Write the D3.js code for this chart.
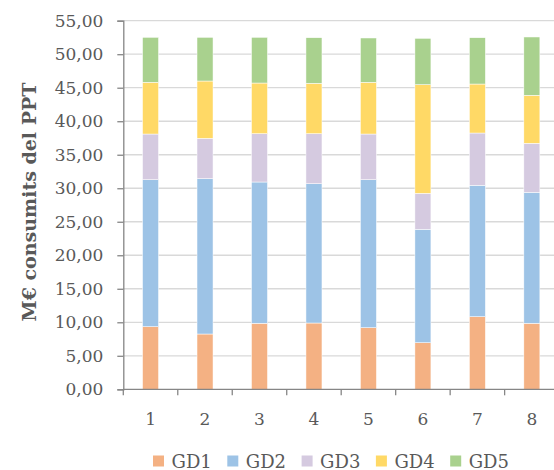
<!DOCTYPE html>
<html>
<head>
<meta charset="utf-8">
<script src="https://cdn.jsdelivr.net/npm/d3@7"></script>
<style>
  body { margin: 0; background: #fff; }
  svg { display: block; font-family: "DejaVu Serif", serif; }
</style>
</head>
<body>
<div id="chart"></div>
<script>
// Categories and series (M€ per group)
const categories = ["1", "2", "3", "4", "5", "6", "7", "8"];
const seriesNames = ["GD1", "GD2", "GD3", "GD4", "GD5"];
const gd1 = [9.34, 8.25, 9.85, 9.89, 9.19, 6.95, 10.83, 9.85];
const gd2 = [21.93, 23.18, 21.08, 20.79, 22.08, 16.92, 19.61, 19.54];
const gd3 = [6.82, 6.02, 7.21, 7.46, 6.82, 5.37, 7.80, 7.32];
const gd4 = [7.72, 8.55, 7.56, 7.52, 7.72, 16.21, 7.31, 7.16];
const gd5 = [6.71, 6.52, 6.82, 6.80, 6.61, 6.92, 6.91, 8.70];
const yTicks = [0, 5, 10, 15, 20, 25, 30, 35, 40, 45, 50, 55];
const colors = ["#F4B183", "#9DC3E6", "#D5CAE0", "#FFD966", "#A9D18E"];

const values = [gd1, gd2, gd3, gd4, gd5];
const table = categories.map((c, i) => {
    const row = {cat: c};
    seriesNames.forEach((s, j) => row[s] = values[j][i]);
    return row;
});

const dimensions = {
    width: 554,
    height: 470,
    margin: {top: 20.7, left: 123.3},
    boundedWidth: 435.8,
    boundedHeight: 368.6,
};

const svg = d3.select("#chart")
    .append("svg")
    .attr("width", dimensions.width)
    .attr("height", dimensions.height);

const bounds = svg.append("g")
    .attr("transform", `translate(${dimensions.margin.left},${dimensions.margin.top})`);

const x = d3.scaleBand()
    .domain(categories)
    .range([0, dimensions.boundedWidth])
    .padding(0);

const y = d3.scaleLinear()
    .domain([0, 55])
    .range([dimensions.boundedHeight, 0]);

// gridlines
bounds.append("g")
    .selectAll("line")
    .data(yTicks.filter(d => d > 0))
    .join("line")
    .attr("x1", 0)
    .attr("x2", dimensions.boundedWidth)
    .attr("y1", d => y(d))
    .attr("y2", d => y(d))
    .attr("stroke", "#D9D9D9")
    .attr("stroke-width", 1.3);

// stacked bars
const stack = d3.stack().keys(seriesNames);
const stacked = stack(table);
const barWidth = x.bandwidth() * 0.294;

bounds.append("g")
    .selectAll("g")
    .data(stacked)
    .join("g")
    .attr("fill", (d, i) => colors[i])
    .selectAll("rect")
    .data(d => d)
    .join("rect")
    .attr("x", d => x(d.data.cat) + (x.bandwidth() - barWidth) / 2)
    .attr("width", barWidth)
    .attr("y", d => y(d[1]))
    .attr("height", d => y(d[0]) - y(d[1]))
    .attr("stroke", "#fff")
    .attr("stroke-width", 0.5);

// y axis
const yAxis = bounds.append("g")
    .call(d3.axisLeft(y).tickValues(yTicks).tickSize(6).tickPadding(14)
        .tickFormat(d => d3.format(".2f")(d).replace(".", ",")));
yAxis.select(".domain").attr("stroke", "#868686").attr("stroke-width", 1.3);
yAxis.selectAll(".tick line").attr("stroke", "#868686").attr("stroke-width", 1.3);
yAxis.selectAll("text")
    .attr("fill", "#595959")
    .style("font-family", "DejaVu Serif")
    .style("font-size", "17px");

// x axis
const xAxis = bounds.append("g")
    .attr("transform", `translate(0,${dimensions.boundedHeight})`)
    .call(d3.axisBottom(x).tickSize(0).tickPadding(24));
xAxis.select(".domain").remove();
xAxis.selectAll("text")
    .attr("fill", "#595959")
    .style("font-family", "DejaVu Serif")
    .style("font-size", "17px");

xAxis.append("line")
    .attr("x1", 0)
    .attr("x2", dimensions.boundedWidth)
    .attr("stroke", "#868686")
    .attr("stroke-width", 1.3);

xAxis.selectAll(".sep")
    .data(categories)
    .join("line")
    .attr("class", "sep")
    .attr("x1", d => x(d))
    .attr("x2", d => x(d))
    .attr("y1", 0)
    .attr("y2", 6)
    .attr("stroke", "#868686")
    .attr("stroke-width", 1.3);

// y axis title
svg.append("text")
    .attr("transform", `translate(36,${dimensions.margin.top + dimensions.boundedHeight / 2 - 3}) rotate(-90)`)
    .attr("text-anchor", "middle")
    .attr("fill", "#595959")
    .style("font-weight", "bold")
    .style("font-size", "19px")
    .text("M€ consumits del PPT");

// legend
const legend = svg.append("g")
    .attr("transform", "translate(153,461)");

const items = legend.selectAll("g")
    .data(seriesNames)
    .join("g")
    .attr("transform", (d, i) => `translate(${i * 74.3},0)`);

items.append("rect")
    .attr("x", 0)
    .attr("y", -5.5)
    .attr("width", 11)
    .attr("height", 11)
    .attr("fill", (d, i) => colors[i]);

items.append("text")
    .attr("x", 18.5)
    .attr("y", 6.5)
    .attr("fill", "#595959")
    .style("font-size", "18px")
    .text(d => d);
</script>
</body>
</html>
